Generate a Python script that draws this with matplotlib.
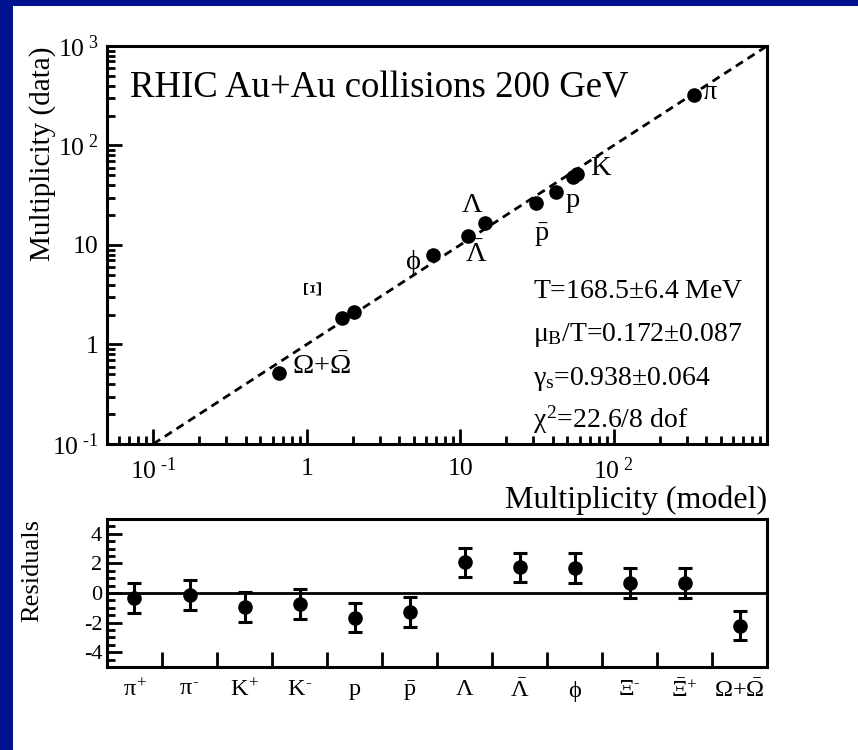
import matplotlib
matplotlib.use("Agg")
import matplotlib.pyplot as plt
from matplotlib.patches import Rectangle
from matplotlib.ticker import FixedLocator, LogLocator, NullFormatter, MultipleLocator
import numpy as np

plt.rcParams['font.family'] = ['Liberation Serif', 'DejaVu Serif']
plt.rcParams['mathtext.fontset'] = 'custom'
plt.rcParams['mathtext.rm'] = 'Liberation Serif'
plt.rcParams['mathtext.it'] = 'Liberation Serif'
plt.rcParams['mathtext.bf'] = 'Liberation Serif:bold'
plt.rcParams['axes.unicode_minus'] = False

HY = '\u2010'  # plain hyphen, like the original ROOT labels

# top panel: multiplicity data vs model
particles = ['pi', 'K+', 'K-', 'p', 'pbar', 'Lambda', 'Lambdabar', 'phi', 'Xi-', 'Xi+', 'Omega']
model = [333, 54, 58, 42, 31, 14.6, 11.2, 6.7, 1.71, 2.05, 0.66]
data = [322, 48, 52, 34, 26.4, 16.6, 12.3, 7.9, 1.85, 2.12, 0.52]
diag = [0.1, 1000]

# bottom panel: residuals
res_labels = [r'$\pi^{+}$', r'$\pi^{' + HY + '}$', r'$K^{+}$', r'$K^{' + HY + '}$', 'p',
              r'$\bar{p}$', r'$\Lambda$', r'$\bar{\Lambda}$', r'$\phi$',
              r'$\Xi^{' + HY + '}$', r'$\bar{\Xi}^{+}$', r'$\Omega$+$\bar{\Omega}$']
residuals = [-0.33, -0.13, -0.93, -0.73, -1.67, -1.27, 2.07, 1.73, 1.67, 0.67, 0.67, -2.2]
res_err = [1.0] * 12

fig = plt.figure(figsize=(8.58, 7.5), dpi=100, facecolor='#00128f')
fig.add_artist(Rectangle((13 / 858, 0), 1, 1 - 6 / 750, transform=fig.transFigure,
                         facecolor='white', edgecolor='none', zorder=-10))

ax = fig.add_axes([0.1247, 0.408, 0.7693, 0.5307])
ax.set_xscale('log')
ax.set_yscale('log')
ax.set_xlim(0.05, 1000)
ax.set_ylim(0.1, 1000)
ax.plot(diag, diag, ls=(0, (3, 2)), color='black', lw=2)
ax.plot(model, data, 'o', color='black', ms=9.5)

for s in ax.spines.values():
    s.set_linewidth(2.2)

ax.xaxis.set_major_locator(FixedLocator([0.1, 1, 10, 100]))
ax.set_xticklabels([r'$10^{\ ' + HY + '1}$', '1', '10', r'$10^{\ 2}$'])
ax.xaxis.set_minor_locator(LogLocator(base=10, subs=np.arange(2, 10)))
ax.xaxis.set_minor_formatter(NullFormatter())
ax.yaxis.set_major_locator(FixedLocator([0.1, 1, 10, 100, 1000]))
ax.set_yticklabels([r'$10^{\ ' + HY + '1}$', '1', '10', r'$10^{\ 2}$', r'$10^{\ 3}$'])
ax.yaxis.set_minor_locator(LogLocator(base=10, subs=np.arange(2, 10)))
ax.yaxis.set_minor_formatter(NullFormatter())
ax.tick_params(which='both', direction='in', top=False, right=False, width=2, labelsize=18.5)
ax.tick_params(which='major', length=11)
ax.tick_params(which='minor', length=6)
ax.tick_params(axis='x', pad=10)
ax.tick_params(axis='y', pad=6)

ax.text(0.035, 0.894, 'RHIC Au+Au collisions 200 GeV', transform=ax.transAxes,
        fontsize=26.5, va='center', ha='left')
lab = dict(transform=ax.transAxes, fontsize=20.5, va='center', ha='left')
ax.text(0.902, 0.884, r'$\pi$', **lab)
ax.text(0.732, 0.693, 'K', **lab)
ax.text(0.695, 0.613, 'p', **lab)
ax.text(0.647, 0.525, r'$\bar{p}$', **lab)
ax.text(0.536, 0.598, r'$\Lambda$', **lab)
ax.text(0.542, 0.475, r'$\bar{\Lambda}$', **lab)
ax.text(0.452, 0.457, r'$\phi$', **lab)
ax.text(0.317, 0.389, r'$\Xi$', transform=ax.transAxes, fontsize=18, va='center',
        ha='center', rotation=90)
ax.text(0.280, 0.193, r'$\Omega$+$\bar{\Omega}$', **lab)

st = dict(transform=ax.transAxes, fontsize=20, va='center', ha='left')
ax.text(0.645, 0.382, r'T=168.5$\pm$6.4 MeV', **st)
ax.text(0.645, 0.274, r'$\mu_{B}$/T=0.172$\pm$0.087', **st)
ax.text(0.645, 0.163, r'$\gamma_{s}$=0.938$\pm$0.064', **st)
ax.text(0.645, 0.060, r'$\chi^{2}$=22.6/8 dof', **st)

fig.text(0.894, 0.333, 'Multiplicity (model)', fontsize=23, ha='right', va='center')
fig.text(0.049, 0.795, 'Multiplicity (data)', fontsize=21, ha='center', va='center',
         rotation=90)

# residual panel
ax2 = fig.add_axes([0.1247, 0.1107, 0.7693, 0.1973])
xpos = np.arange(len(residuals)) + 0.5
ax2.axhline(0, color='black', lw=2)
ax2.errorbar(xpos, residuals, yerr=res_err, fmt='o', color='black', ms=9.5,
             elinewidth=2.2, capsize=5, capthick=2.2)
ax2.set_xlim(0, 12)
ax2.set_ylim(-5, 5)
for s in ax2.spines.values():
    s.set_linewidth(2.2)
ax2.xaxis.set_major_locator(FixedLocator(np.arange(1, 12)))
ax2.xaxis.set_major_formatter(NullFormatter())
ax2.set_xticks(xpos, labels=res_labels, minor=True)
ax2.tick_params(axis='x', which='major', direction='in', length=11, width=2, top=False)
ax2.tick_params(axis='x', which='minor', length=0, labelsize=17.5, pad=9, top=False)
ax2.yaxis.set_major_locator(FixedLocator([-4, -2, 0, 2, 4]))
ax2.yaxis.set_minor_locator(MultipleLocator(0.5))
ax2.tick_params(axis='y', which='both', direction='in', width=2, labelsize=16, right=False)
ax2.tick_params(axis='y', which='major', length=11)
ax2.tick_params(axis='y', which='minor', length=6)
fig.text(0.038, 0.24, 'Residuals', fontsize=19, ha='center', va='center', rotation=90)

fig.savefig('out.png', dpi=100, facecolor=fig.get_facecolor())
